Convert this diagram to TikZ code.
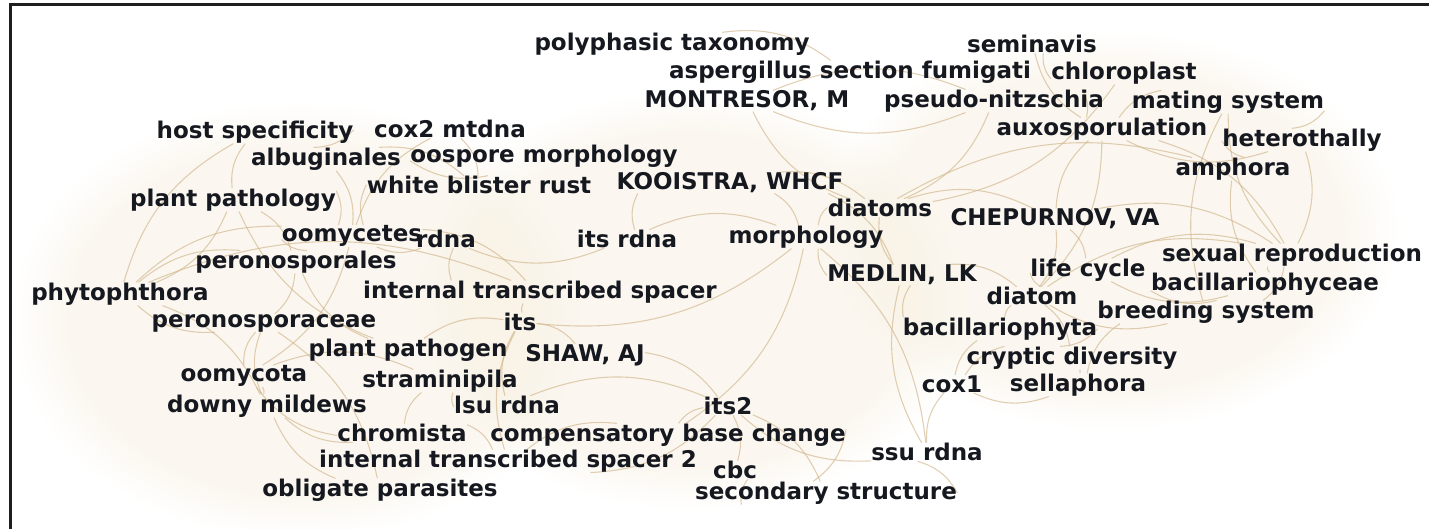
\documentclass[tikz,border=0pt]{standalone}
\usepackage{fontspec}
\setmainfont{DejaVu Sans}
\usetikzlibrary{backgrounds,fadings}

\definecolor{termink}{RGB}{22,24,32}
\definecolor{linktan}{RGB}{210,182,140}
\definecolor{hazetan}{RGB}{246,238,222}
\definecolor{frameink}{RGB}{30,30,30}

\begin{document}
\begin{tikzpicture}[
    x=0.5pt, y=-0.5pt,
    font=\fontsize{11.5}{13}\selectfont\bfseries,
    term/.style={text=termink, inner sep=0pt},
    link/.style={draw=linktan, line width=0.55pt, opacity=0.65, bend left=22},
    rlink/.style={link, bend right=22},
    haze/.style={fill=hazetan, fill opacity=0.45, path fading=circle with fuzzy edge 20 percent}
]
\useasboundingbox (0,0) rectangle (1429,529);
\draw[frameink, line width=1.5pt] (10,529) -- (10,5) -- (1429,5);

% upper band
\node[term] (polytax) at (672,44) {polyphasic taxonomy};
\node[term] (seminavis) at (1032,44) {seminavis};
\node[term] (asperg) at (850,72) {aspergillus section fumigati};
\node[term] (chloro) at (1124,73) {chloroplast};
\node[term] (montresor) at (747,101) {MONTRESOR, M};
\node[term] (pseudo) at (994,101) {pseudo-nitzschia};
\node[term] (mating) at (1228,102) {mating system};
\node[term] (hostspec) at (255,132) {host specificity};
\node[term] (cox2) at (450,129) {cox2 mtdna};
\node[term] (auxo) at (1102,129) {auxosporulation};
\node[term] (hetero) at (1302,140) {heterothally};
\node[term] (albug) at (326,159) {albuginales};
\node[term] (oospore) at (544,156) {oospore morphology};
\node[term] (amphora) at (1233,169) {amphora};
\node[term] (blister) at (479,185) {white blister rust};
\node[term] (kooistra) at (730,183) {KOOISTRA, WHCF};
\node[term] (plantpath) at (233,200) {plant pathology};
\node[term] (diatoms) at (880,208) {diatoms};
\node[term] (chepurnov) at (1055,219) {CHEPURNOV, VA};

% middle band
\node[term] (oomycetes) at (352,236) {oomycetes};
\node[term] (rdna) at (446,239) {rdna};
\node[term] (itsrdna) at (627,239) {its rdna};
\node[term] (morph) at (806,237) {morphology};
\node[term] (sexrep) at (1292,255) {sexual reproduction};
\node[term] (perales) at (296,262) {peronosporales};
\node[term] (lifecycle) at (1088,270) {life cycle};
\node[term] (medlin) at (902,275) {MEDLIN, LK};
\node[term] (bacyceae) at (1265,284) {bacillariophyceae};
\node[term] (phyto) at (120,294) {phytophthora};
\node[term] (itsspacer) at (540,292) {internal transcribed spacer};
\node[term] (diatom) at (1032,296) {diatom};
\node[term] (breeding) at (1206,312) {breeding system};
\node[term] (peraceae) at (264,323) {peronosporaceae};
\node[term] (its) at (520,322) {its};
\node[term] (bacphyta) at (1000,329) {bacillariophyta};

% lower band
\node[term] (pathogen) at (408,350) {plant pathogen};
\node[term] (shaw) at (585,355) {SHAW, AJ};
\node[term] (cryptic) at (1072,358) {cryptic diversity};
\node[term] (oomycota) at (244,376) {oomycota};
\node[term] (stramin) at (440,381) {straminipila};
\node[term] (cox1) at (952,384) {cox1};
\node[term] (sellaphora) at (1078,385) {sellaphora};
\node[term] (downy) at (267,406) {downy mildews};
\node[term] (lsu) at (507,405) {lsu rdna};
\node[term] (its2) at (728,406) {its2};
\node[term] (chromista) at (402,433) {chromista};
\node[term] (cbchange) at (668,435) {compensatory base change};
\node[term] (ssu) at (927,452) {ssu rdna};
\node[term] (itsspacertwo) at (508,461) {internal transcribed spacer 2};
\node[term] (cbc) at (735,470) {cbc};
\node[term] (obligate) at (380,490) {obligate parasites};
\node[term] (secstruct) at (826,493) {secondary structure};

% faint co-occurrence links
\begin{scope}[on background layer]
\fill[haze] (300,320) ellipse [x radius=290, y radius=220];
\fill[haze] (690,300) ellipse [x radius=280, y radius=210];
\fill[haze] (1110,230) ellipse [x radius=290, y radius=200];
\foreach \a/\b in {phyto/perales, phyto/oomycetes, phyto/downy, phyto/hostspec,
    oomycetes/oomycota, oomycetes/cox2, oomycetes/blister, peraceae/obligate,
    oomycota/stramin, albug/blister, cox2/blister, pathogen/plantpath,
    itsspacer/rdna, its/shaw, itsrdna/morph, its2/cbc, itsspacertwo/cbchange,
    cbchange/secstruct, chromista/itsspacertwo, diatoms/montresor, diatoms/chepurnov,
    diatom/lifecycle, diatom/sexrep, auxo/mating, mating/hetero, chloro/seminavis,
    lifecycle/sexrep, breeding/mating, cryptic/sellaphora, bacphyta/medlin,
    morph/its, kooistra/medlin, chepurnov/sexrep, polytax/asperg, ssu/medlin,
    plantpath/oomycetes, phyto/itsspacer, shaw/its2, morph/ssu,
    hostspec/albug, plantpath/perales, oomycetes/itsspacer, perales/peraceae,
    oomycota/downy, pathogen/its, lsu/its2, pseudo/auxo, auxo/sexrep,
    chepurnov/lifecycle, hetero/sexrep, sexrep/breeding, medlin/morph,
    chloro/diatoms, cox1/cryptic, ssu/its2, morph/cbchange}
    \draw[link] (\a) to (\b);
\foreach \a/\b in {phyto/peraceae, phyto/plantpath, oomycetes/perales, oomycetes/albug,
    peraceae/downy, oomycota/chromista, downy/obligate, oospore/blister,
    perales/pathogen, its/lsu, itsspacer/its, rdna/itsrdna, its2/cbchange,
    cbc/secstruct, itsspacertwo/its2, secstruct/ssu, stramin/lsu, diatoms/morph,
    diatoms/kooistra, diatoms/pseudo, diatoms/medlin, diatom/bacphyta, diatom/auxo,
    diatom/medlin, auxo/hetero, auxo/chepurnov, hetero/amphora, pseudo/montresor,
    sexrep/bacyceae, breeding/sellaphora, cox1/sellaphora, cryptic/bacphyta,
    amphora/diatoms, diatom/breeding, downy/chromista, cox1/ssu, kooistra/itsrdna,
    hostspec/plantpath, oomycetes/rdna, peraceae/oomycota, stramin/chromista,
    its/itsspacertwo, montresor/pseudo, lifecycle/bacyceae, diatom/chepurnov,
    mating/sexrep, amphora/bacyceae, bacyceae/breeding, morph/kooistra,
    seminavis/auxo, cryptic/diatom, bacphyta/cox1, secstruct/its2}
    \draw[rlink] (\a) to (\b);
\end{scope}
\end{tikzpicture}
\end{document}
